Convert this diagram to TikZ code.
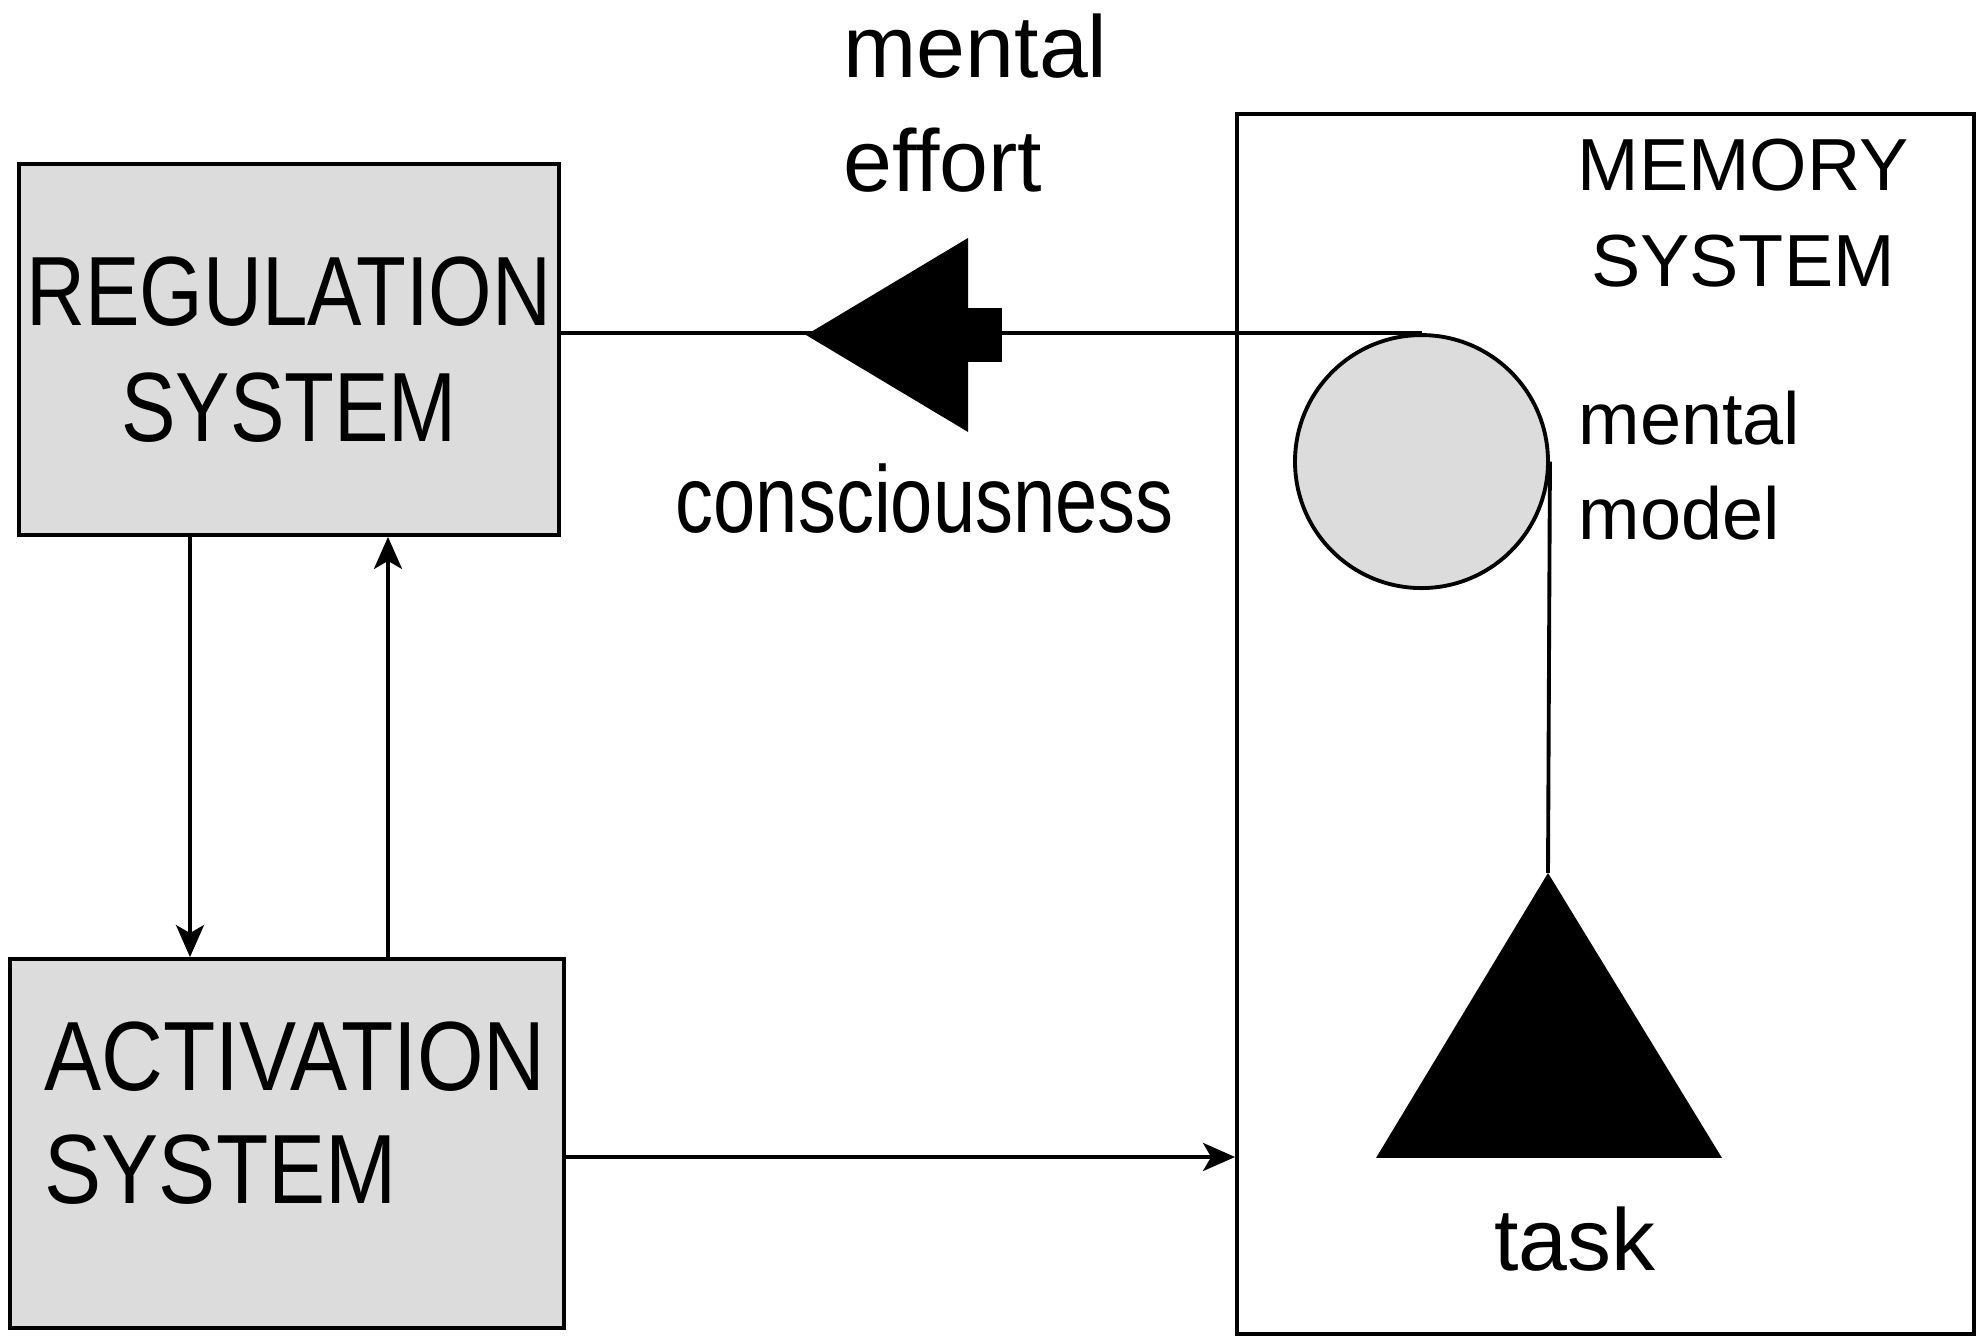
\documentclass[tikz,border=0pt]{standalone}
\usepackage{fontspec}
\setmainfont{Liberation Sans}
\newfontfamily\sysfont[FakeStretch=0.83]{Liberation Sans}
\newfontfamily\actfont[FakeStretch=0.87]{Liberation Sans}
\newfontfamily\consfont[FakeStretch=0.80]{Liberation Sans}
\usetikzlibrary{arrows.meta, positioning, calc}
\definecolor{boxgray}{RGB}{220, 220, 220}

\begin{document}
\begin{tikzpicture}[
    sysbox/.style={rectangle, draw, line width=1.1pt, fill=boxgray, inner sep=0pt},
    lbl/.style={inner sep=0pt, align=left},
    arr/.style={-{Stealth[length=0.32cm, width=0.28cm, inset=0.08cm]}, line width=1.1pt},
    line/.style={line width=1.1pt}]
    \useasboundingbox (0,0) rectangle (19.83,13.43);

    % Systems
    \node[sysbox, minimum width=5.40cm, minimum height=3.71cm, align=center,
          font=\sysfont\fontsize{28}{33}\selectfont] (reg) at (2.89,9.935) {REGULATION\\SYSTEM};
    \node[sysbox, minimum width=5.54cm, minimum height=3.69cm] (act) at (2.87,1.995) {};
    \node[lbl, anchor=west, font=\actfont\fontsize{28}{32}\selectfont] (actlabel) at (0.44,2.30) {ACTIVATION\\SYSTEM};
    \node[rectangle, draw, line width=1.1pt, minimum width=7.37cm, minimum height=12.20cm] (mem) at (16.055,6.19) {};
    \node[lbl, align=center, font=\fontsize{21}{27.3}\selectfont] (memlabel) at (17.43,11.295) {MEMORY\\SYSTEM};

    % Mental model and task
    \node[circle, draw, line width=1.1pt, fill=boxgray, minimum size=2.53cm, inner sep=0pt] (circ) at (14.215,8.814) {};
    \node[lbl, anchor=west, font=\fontsize{21}{27}\selectfont] (modellabel) at (15.78,8.77) {mental\\model};
    \coordinate (taskapex) at (15.48,4.70);
    \fill (taskapex) -- (17.22,1.85) -- (13.76,1.85) -- cycle;
    \node[lbl, anchor=base, font=\fontsize{25}{32}\selectfont] (tasklabel) at (15.75,0.72) {task};

    % Mental effort
    \draw[line] (circ.north) -- (reg.east |- circ.north);
    \draw[line] (circ.east) -- (taskapex);
    \coordinate (effort) at (8.06,10.08);
    \fill (effort) -- ++(1.62,0.97) -- ++(0,-1.94) -- cycle;
    \fill ($(effort)+(1.34,-0.27)$) rectangle ++(0.62,0.54);
    \node[lbl, anchor=west, font=\fontsize{25}{32.4}\selectfont] (effortlabel) at (8.43,12.40) {mental\\effort};
    \node[lbl, anchor=base west, font=\consfont\fontsize{27}{32}\selectfont] (conslabel) at (6.75,8.10) {consciousness};

    % Arrows
    \draw[arr] ([xshift=-0.99cm]reg.south) -- ([xshift=-0.99cm]reg.south |- act.north);
    \draw[arr] ([xshift=0.99cm]reg.south |- act.north) -- ([xshift=0.99cm]reg.south);
    \draw[arr] ([yshift=-0.135cm]act.east) -- ([yshift=-0.135cm]act.east -| mem.west);
\end{tikzpicture}
\end{document}
